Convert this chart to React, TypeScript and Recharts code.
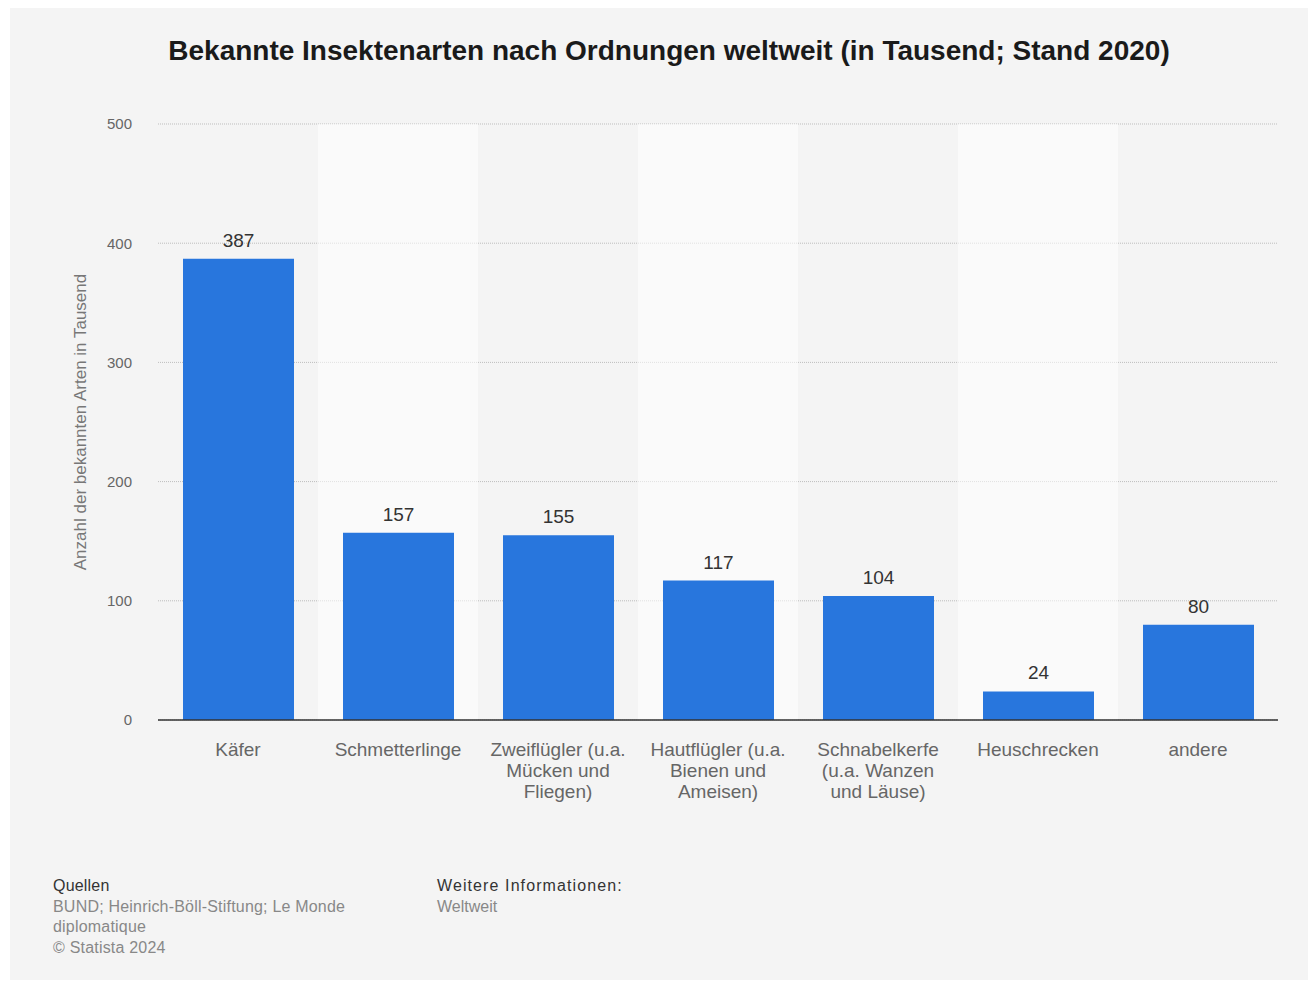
import { BarChart, Bar, XAxis, YAxis, CartesianGrid, LabelList, ReferenceArea } from 'recharts'

const categories = [
  'Käfer',
  'Schmetterlinge',
  'Zweiflügler (u.a.\nMücken und\nFliegen)',
  'Hautflügler (u.a.\nBienen und\nAmeisen)',
  'Schnabelkerfe\n(u.a. Wanzen\nund Läuse)',
  'Heuschrecken',
  'andere',
]
const species = [387, 157, 155, 117, 104, 24, 80]
const yTicks = [0, 100, 200, 300, 400, 500]
// every second band is drawn lighter
const lightBands = [categories[1], categories[3], categories[5]]

const title = 'Bekannte Insektenarten nach Ordnungen weltweit (in Tausend; Stand 2020)'
const yLabel = 'Anzahl der bekannten Arten in Tausend'

const data = categories.map((name, i) => ({ name, value: species[i] }))

const FONT = "'Liberation Sans', Arial, Helvetica, sans-serif"

function CategoryTick(props: any) {
  const { x, y, payload } = props
  const lines = String(payload.value).split('\n')
  return (
    <text x={x} y={y} textAnchor="middle" fill="#666" fontSize={19} fontFamily={FONT}>
      {lines.map((line, i) => (
        <tspan key={i} x={x} dy={i === 0 ? 34 : 21}>
          {line}
        </tspan>
      ))}
    </text>
  )
}

function AxisTitle(props: any) {
  const { viewBox } = props
  const cx = viewBox.x + 70
  const cy = viewBox.y + viewBox.height / 2
  return (
    <text
      x={cx}
      y={cy}
      transform={`rotate(-90 ${cx} ${cy})`}
      textAnchor="middle"
      dominantBaseline="central"
      fill="#777"
      fontSize={17}
      fontFamily={FONT}
    >
      {yLabel}
    </text>
  )
}

export default function App() {
  return (
    <div style={{ position: 'relative', width: 1316, height: 981, fontFamily: FONT }}>
      <div style={{ position: 'absolute', left: -8, top: 17, width: 3, height: 1, background: '#000' }} />
      <div style={{ position: 'absolute', left: -3, top: 17, width: 3, height: 1, background: '#000' }} />
      <div
        style={{
          position: 'absolute',
          left: 2,
          top: -2,
          width: 1306,
          height: 974,
          background: '#f4f4f4',
        }}
      >
        <div
          style={{
            position: 'absolute',
            left: 0,
            top: 29,
            width: 1318,
            textAlign: 'center',
            fontSize: 28,
            fontWeight: 'bold',
            color: '#1a1a1a',
          }}
        >
          {title}
        </div>

        <div style={{ position: 'absolute', top: 0, left: 0 }}>
          <BarChart
            width={1306}
            height={840}
            data={data}
            margin={{ top: 118, right: 38, left: 0, bottom: 0 }}
          >
            {lightBands.map((c) => (
              <ReferenceArea
                key={c}
                x1={c}
                x2={c}
                y1={0}
                y2={500}
                fill="#ffffff"
                fillOpacity={0.55}
                stroke="none"
                ifOverflow="visible"
              />
            ))}
            <CartesianGrid vertical={false} stroke="#bdbdbd" strokeDasharray="1 1" />
            <XAxis
              dataKey="name"
              interval={0}
              height={126}
              tickLine={false}
              tickSize={0}
              stroke="#333"
              strokeWidth={1.5}
              tick={<CategoryTick />}
            />
            <YAxis
              width={148}
              domain={[0, 500]}
              ticks={yTicks}
              axisLine={false}
              tickLine={false}
              tickSize={0}
              tickMargin={26}
              tick={{ fill: '#666', fontSize: 15 }}
              label={<AxisTitle />}
            />
            <Bar dataKey="value" fill="#2876dd" barSize={111} isAnimationActive={false}>
              <LabelList dataKey="value" position="top" offset={12} fill="#333" fontSize={19} />
            </Bar>
          </BarChart>
        </div>

        <div style={{ position: 'absolute', left: 43, top: 870, fontSize: 16, lineHeight: '20.5px', letterSpacing: 0.2 }}>
          <div style={{ color: '#333' }}>Quellen</div>
          <div style={{ color: '#888' }}>BUND; Heinrich-Böll-Stiftung; Le Monde</div>
          <div style={{ color: '#888' }}>diplomatique</div>
          <div style={{ color: '#888' }}>© Statista 2024</div>
        </div>
        <div style={{ position: 'absolute', left: 427, top: 870, fontSize: 16, lineHeight: '20.5px' }}>
          <div style={{ color: '#333', letterSpacing: 1.1 }}>Weitere Informationen:</div>
          <div style={{ color: '#888' }}>Weltweit</div>
        </div>
      </div>
    </div>
  )
}
